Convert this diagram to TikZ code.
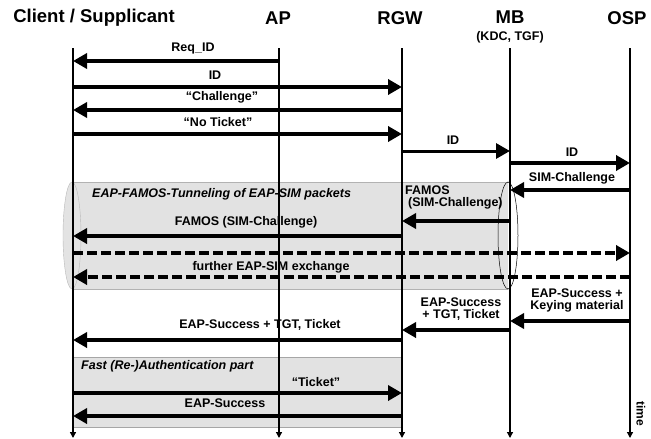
\documentclass[tikz,border=0pt]{standalone}
\usepackage{fontspec}
\setmainfont{Liberation Sans}
\usetikzlibrary{arrows.meta}
\begin{document}
\begin{tikzpicture}[x=1pt,y=-1pt,
  life/.style={line width=1.3pt,-{Triangle[length=6pt,width=6pt]}},
  msg/.style={line width=3.5pt,-{Triangle[length=14pt,width=15pt]}},
  dmsg/.style={msg,dash pattern=on 10pt off 4pt},
  lbl/.style={font=\fontsize{12.5}{13}\selectfont\bfseries,inner sep=0pt},
  ilbl/.style={font=\fontsize{12.5}{13}\selectfont\bfseries\itshape,inner sep=0pt},
  hdr/.style={font=\fontsize{18.5}{20}\selectfont\bfseries,inner sep=0pt},
]
\useasboundingbox (0,0) rectangle (651,439);
\definecolor{tunnel}{HTML}{E2E2E2}
% headers
\node[hdr] (hC) at (94,18) {Client / Supplicant};
\node[hdr] (hA) at (278,18) {AP};
\node[hdr] (hR) at (400,18) {RGW};
\node[hdr] (hM) at (510,17) {MB};
\node[font=\fontsize{12.5}{13}\selectfont\bfseries,inner sep=0pt] (hK) at (510,37) {(KDC, TGF)};
\node[hdr] (hO) at (627,18) {OSP};
% lifeline ends
\coordinate (C) at (73,48);   \coordinate (Cb) at (73,438);
\coordinate (A) at (279,48);  \coordinate (Ab) at (279,438);
\coordinate (R) at (402,48);  \coordinate (Rb) at (402,438);
\coordinate (M) at (510,48);  \coordinate (Mb) at (510,438);
\coordinate (O) at (630,48);  \coordinate (Ob) at (630,438);
% backgrounds
\fill[tunnel] (72,182) rectangle (508,289);
\draw[gray!60,line width=0.4pt] (72,182) -- (508,182) (72,289) -- (508,289);
\draw[gray!55,fill=gray!22,line width=0.4pt] (72,235.5) ellipse (9 and 53.5);
\draw[gray!70,fill=tunnel,line width=0.5pt] (73,357) rectangle (402,427);
% lifelines
\foreach \t/\b in {C/Cb,A/Ab,R/Rb,M/Mb,O/Ob} \draw[life] (\t) -- (\b);
% messages
\draw[msg] (A |- 0,61) -- (C |- 0,61);
\node[lbl] at (193,48) {Req\_ID};
\draw[msg] (C |- 0,87) -- (R |- 0,87);
\node[lbl] at (215,75) {ID};
\draw[msg] (R |- 0,110) -- (C |- 0,110);
\node[lbl] at (222,97) {“Challenge”};
\draw[msg] (C |- 0,134) -- (R |- 0,134);
\node[lbl] at (218,122) {“No Ticket”};
\draw[msg,line width=3pt] (R |- 0,151) -- (M |- 0,151);
\node[lbl] at (453,140) {ID};
\draw[msg] (M |- 0,163) -- (O |- 0,163);
\node[lbl] at (572,152) {ID};
\draw[msg] (O |- 0,190) -- (M |- 0,190);
\node[lbl] at (572,178) {SIM-Challenge};
\node[ilbl,anchor=west] at (92,194) {EAP-FAMOS-Tunneling of EAP-SIM packets};
\draw[msg] (M |- 0,221) -- (R |- 0,221);
\node[lbl,anchor=west] at (405,190) {FAMOS};
\node[lbl,anchor=west] at (408,203) {(SIM-Challenge)};
\draw[msg] (R |- 0,236) -- (C |- 0,236);
\node[lbl] at (246,222) {FAMOS (SIM-Challenge)};
\draw[dmsg] (C |- 0,253) -- (O |- 0,253);
\draw[dmsg] (O |- 0,277) -- (C |- 0,277);
\node[lbl] at (271,267) {further EAP-SIM exchange};
\draw[line width=0.5pt] (508,235.5) ellipse (10 and 53.5);
\draw[msg] (O |- 0,321) -- (M |- 0,321);
\node[lbl] at (577,293) {EAP-Success +};
\node[lbl] at (577,306) {Keying material};
\draw[msg] (M |- 0,330) -- (R |- 0,330);
\node[lbl] at (461,302) {EAP-Success};
\node[lbl] at (461,315) {+ TGT, Ticket};
\draw[msg] (R |- 0,340) -- (C |- 0,340);
\node[lbl] at (260,325) {EAP-Success + TGT, Ticket};
\node[ilbl,anchor=west] at (81,366) {Fast (Re-)Authentication part};
\draw[msg] (C |- 0,393) -- (R |- 0,393);
\node[lbl] at (316,382) {“Ticket”};
\draw[msg] (R |- 0,416) -- (C |- 0,416);
\node[lbl] at (225,403) {EAP-Success};
\node[font=\fontsize{12}{13}\selectfont\bfseries,inner sep=0pt,rotate=-90] (tm) at (641,414) {time};
\end{tikzpicture}
\end{document}
